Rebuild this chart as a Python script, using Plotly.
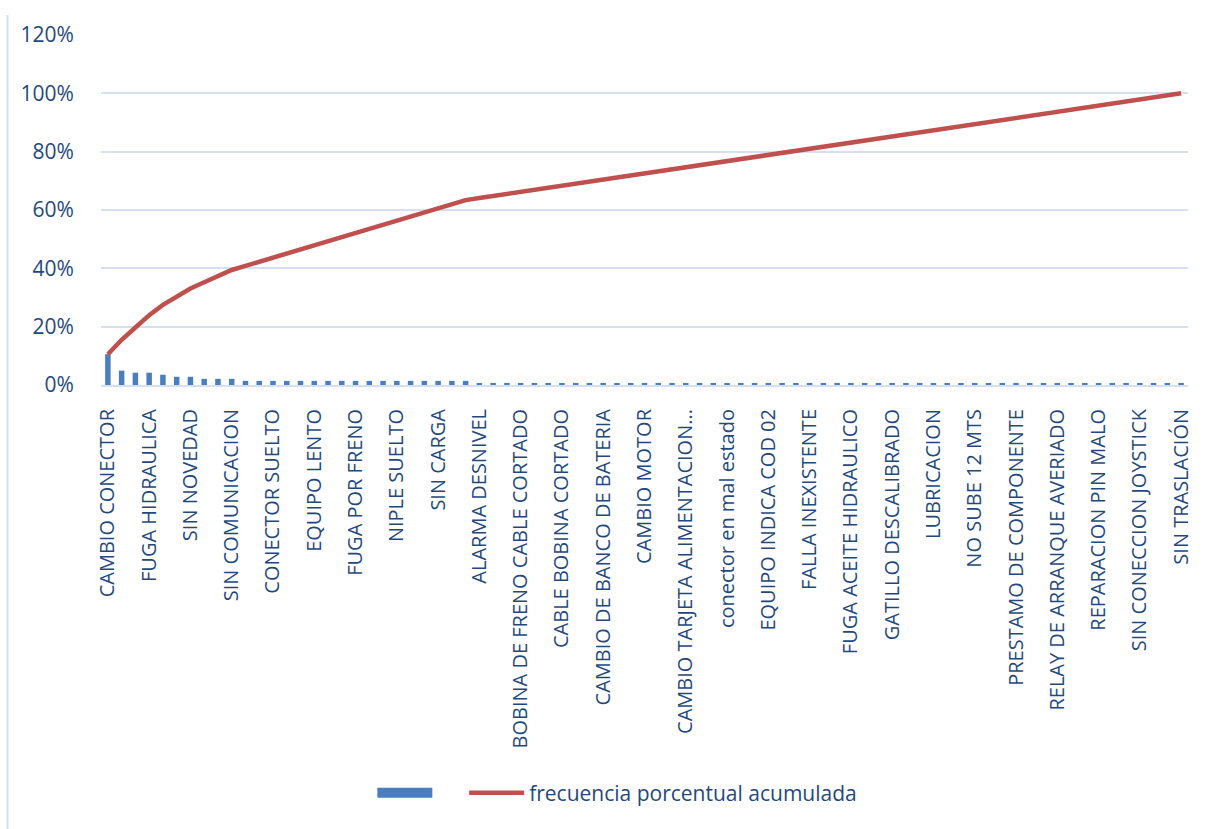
import plotly.graph_objects as go

# Frequency counts per failure category (sorted, Pareto), 80 categories
counts = [15, 7, 6, 6, 5, 4, 4, 3, 3, 3,
          2, 2, 2, 2, 2, 2, 2, 2, 2, 2, 2, 2, 2, 2, 2, 2, 2,
          1, 1, 1, 1, 1, 1, 1, 1, 1, 1, 1, 1, 1, 1, 1, 1, 1, 1, 1, 1, 1, 1, 1, 1, 1, 1,
          1, 1, 1, 1, 1, 1, 1, 1, 1, 1, 1, 1, 1, 1, 1, 1, 1, 1, 1, 1, 1, 1, 1, 1, 1, 1]

# Visible category labels (Excel shows every third category)
tick_labels = ["CAMBIO CONECTOR", "FUGA HIDRAULICA", "SIN NOVEDAD", "SIN COMUNICACION",
               "CONECTOR SUELTO", "EQUIPO LENTO", "FUGA POR FRENO", "NIPLE SUELTO",
               "SIN CARGA", "ALARMA DESNIVEL", "BOBINA DE FRENO CABLE CORTADO",
               "CABLE BOBINA CORTADO", "CAMBIO DE BANCO DE BATERIA", "CAMBIO MOTOR",
               "CAMBIO TARJETA ALIMENTACION...", "conector en mal estado",
               "EQUIPO INDICA COD 02", "FALLA INEXISTENTE", "FUGA ACEITE HIDRAULICO",
               "GATILLO DESCALIBRADO", "LUBRICACION", "NO SUBE 12 MTS",
               "PRESTAMO DE COMPONENTE", "RELAY DE ARRANQUE AVERIADO",
               "REPARACION PIN MALO", "SIN CONECCION JOYSTICK", "SIN TRASLACIÓN"]
label_step = 3

line_name = "frecuencia porcentual acumulada"
bar_name = "\u00a0\u00a0\u00a0\u00a0"

total = sum(counts)
x = list(range(len(counts)))
freq = [c / total for c in counts]
cum = []
run = 0
for c in counts:
    run += c
    cum.append(run / total)

FONT = "Open Sans"
TXT = "#1F497D"
GRID = "#D5E1F1"
BAR = "#4A7EBF"

fig = go.Figure()
fig.add_trace(go.Bar(x=x, y=freq, name=bar_name, showlegend=False,
                     marker=dict(color=BAR, line=dict(width=0))))
# legend proxy for the bar series (wide rectangle swatch as in the original)
fig.add_trace(go.Scatter(x=[None], y=[None], name=bar_name, mode="lines",
                         line=dict(color=BAR, width=15), hoverinfo="skip"))
fig.add_trace(go.Scatter(x=x, y=cum, name=line_name, mode="lines",
                         line=dict(color="#C0504D", width=4.5)))

fig.update_layout(
    width=1216, height=829,
    margin=dict(l=101, r=28, t=35, b=444),
    paper_bgcolor="white", plot_bgcolor="white",
    bargap=0.6,
    font=dict(family=FONT, size=20, color=TXT),
    showlegend=True,
    legend=dict(orientation="h", x=0.475, xanchor="center", y=-1.166, yanchor="middle",
                font=dict(family=FONT, size=21, color=TXT), itemwidth=55, traceorder="normal"),
)
fig.update_xaxes(
    range=[-0.5, len(counts) - 0.5],
    tickmode="array", tickvals=x[::label_step], ticktext=tick_labels,
    tickangle=-90, tickfont=dict(family=FONT, size=20, color=TXT),
    ticks="outside", ticklen=14, tickcolor="rgba(0,0,0,0)",
    showgrid=False, showline=True, linecolor=GRID, linewidth=2, zeroline=False,
)
fig.update_yaxes(
    range=[0, 1.2], dtick=0.2, tickformat=".0%",
    tickfont=dict(family=FONT, size=21, color=TXT),
    ticks="outside", ticklen=22, tickcolor="rgba(0,0,0,0)",
    showgrid=True, gridcolor=GRID, gridwidth=1.5,
    zeroline=False, showline=False,
)
# chart-area border (left edge visible in the original)
fig.add_shape(type="line", xref="paper", yref="paper", x0=-0.086, x1=-0.086, y0=1.057, y1=-1.3,
              line=dict(color=GRID, width=2))

fig.write_html("out.html")
